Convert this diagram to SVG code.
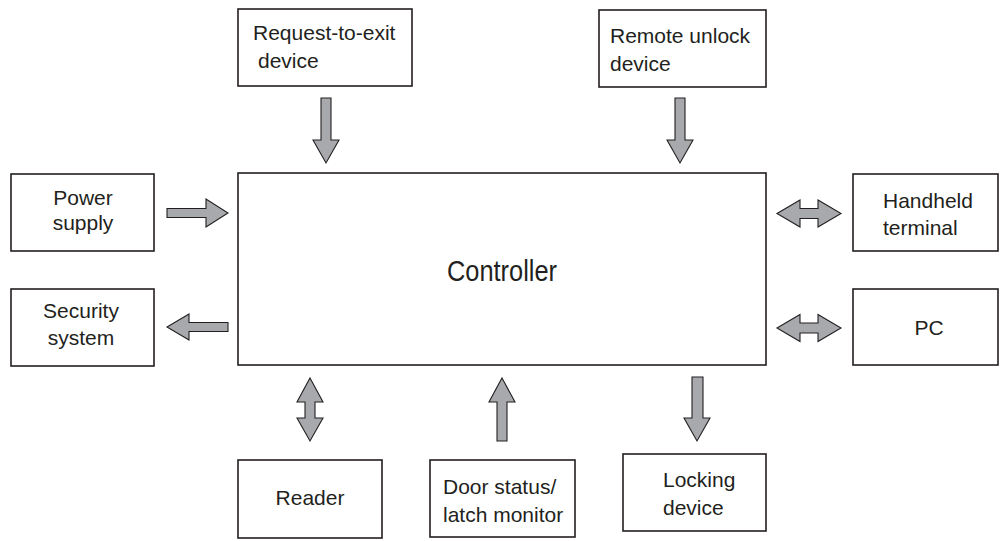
<svg xmlns="http://www.w3.org/2000/svg" width="1002" height="541" viewBox="0 0 1002 541">
  <style>
    .box { fill: #ffffff; stroke: #231f20; stroke-width: 1.6; }
    .lbl { font-family: "Liberation Sans", Arial, sans-serif; font-size: 21px; fill: #231f20; }
    .mid { text-anchor: middle; }
    .arrow { fill: #a7a9ac; stroke: #231f20; stroke-width: 1.1; stroke-linejoin: miter; }
  </style>
  <rect width="1002" height="541" fill="#ffffff"/>

  <!-- Block arrows between the controller and its peripherals -->
  <g id="connectors">
    <!-- request-to-exit -> controller -->
    <polygon class="arrow" points="321,98 331,98 331,140 339,140 326,163 313,140 321,140"/>
    <!-- remote unlock -> controller -->
    <polygon class="arrow" points="675,98 685,98 685,140 693,140 680,163 667,140 675,140"/>
    <!-- power supply -> controller -->
    <polygon class="arrow" points="167,208.5 206,208.5 206,199 228,213 206,227 206,217.5 167,217.5"/>
    <!-- controller -> security system -->
    <polygon class="arrow" points="228,322.5 189,322.5 189,314 167,327 189,340 189,331.5 228,331.5"/>
    <!-- controller <-> handheld terminal -->
    <polygon class="arrow" points="777,213.5 800,200 800,208.5 818,208.5 818,200 841,213.5 818,227 818,218.5 800,218.5 800,227"/>
    <!-- controller <-> PC -->
    <polygon class="arrow" points="777,328 800,314.5 800,323 818,323 818,314.5 841,328 818,341.5 818,333 800,333 800,341.5"/>
    <!-- controller <-> reader -->
    <polygon class="arrow" points="310,378 323,402 315,402 315,418 323,418 310,441 297,418 305,418 305,402 297,402"/>
    <!-- door status / latch monitor -> controller -->
    <polygon class="arrow" points="502,378 515,402 507,402 507,441 497,441 497,402 489,402"/>
    <!-- controller -> locking device -->
    <polygon class="arrow" points="692,377 703,377 703,418 710,418 697,441 684,418 692,418"/>
  </g>

  <g id="controller">
    <rect class="box" x="238" y="173" width="528" height="192"/>
    <text class="lbl mid" x="502" y="281" textLength="110" lengthAdjust="spacingAndGlyphs" style="font-size:29px">Controller</text>
  </g>

  <g id="request-to-exit">
    <rect class="box" x="238" y="9" width="174" height="77"/>
    <text class="lbl" x="253" y="40">Request-to-exit</text>
    <text class="lbl" x="258" y="68">device</text>
  </g>

  <g id="remote-unlock">
    <rect class="box" x="599" y="10" width="167" height="77"/>
    <text class="lbl" x="610" y="43">Remote unlock</text>
    <text class="lbl" x="610" y="71">device</text>
  </g>

  <g id="power-supply">
    <rect class="box" x="11" y="174" width="143" height="77"/>
    <text class="lbl mid" x="83" y="205">Power</text>
    <text class="lbl mid" x="83" y="230">supply</text>
  </g>

  <g id="security-system">
    <rect class="box" x="11" y="289" width="143" height="77"/>
    <text class="lbl mid" x="81" y="318">Security</text>
    <text class="lbl mid" x="81" y="345">system</text>
  </g>

  <g id="handheld-terminal">
    <rect class="box" x="853" y="174" width="145" height="77"/>
    <text class="lbl" x="883" y="208">Handheld</text>
    <text class="lbl" x="883" y="235">terminal</text>
  </g>

  <g id="pc">
    <rect class="box" x="853" y="289" width="145" height="76"/>
    <text class="lbl mid" x="929" y="335">PC</text>
  </g>

  <g id="reader">
    <rect class="box" x="238" y="460" width="144" height="78"/>
    <text class="lbl mid" x="310" y="505">Reader</text>
  </g>

  <g id="door-status">
    <rect class="box" x="430" y="460" width="145" height="77"/>
    <text class="lbl" x="443" y="494">Door status/</text>
    <text class="lbl" x="443" y="522">latch monitor</text>
  </g>

  <g id="locking-device">
    <rect class="box" x="623" y="454" width="143" height="77"/>
    <text class="lbl" x="663" y="487">Locking</text>
    <text class="lbl" x="663" y="515">device</text>
  </g>
</svg>
